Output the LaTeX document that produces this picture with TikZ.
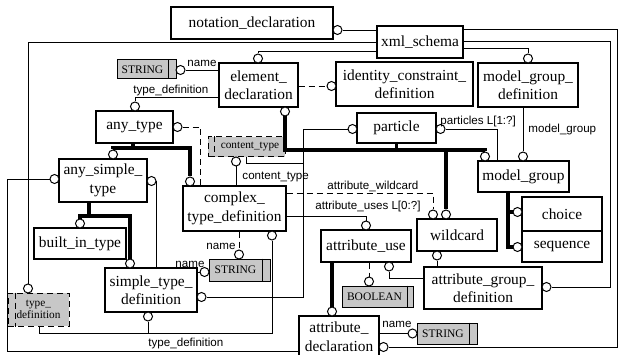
\documentclass[tikz,border=0pt]{standalone}
\usepackage{fontspec}
\setmainfont{Liberation Serif}
\setsansfont{Liberation Sans}

\begin{document}
\begin{tikzpicture}[x=1pt,y=-1pt,line width=.9pt,
  ent/.style={draw,line width=1.1pt,align=center,inner sep=0pt,font=\fontsize{15.4}{18.5}\selectfont},
  simp/.style={draw,line width=1pt,fill=black!22,inner sep=0pt,font=\fontsize{11.5}{13}\selectfont},
  sel/.style={draw,opt,line width=1pt,fill=black!22,align=center,inner sep=0pt,font=\fontsize{11.3}{12.5}\selectfont},
  oc/.style={circle,draw,fill=white,line width=1pt,inner sep=0pt,minimum size=9pt},
  isa/.style={line width=3.5pt},
  opt/.style={dash pattern=on 6pt off 4pt},
  lbl/.style={font=\sffamily\fontsize{11.6}{13}\selectfont,inner sep=0pt,anchor=base west}]
  \useasboundingbox (0,0) rectangle (620,355);

  \node[ent,minimum width=162pt,minimum height=32pt] (nd) at (252,23) {notation\_declaration};
  \node[ent,minimum width=86pt,minimum height=32pt] (xs) at (420,42) {xml\_schema};
  \node[ent,minimum width=79pt,minimum height=44pt] (ed) at (258.5,85) {element\_\\declaration};
  \node[ent,minimum width=137pt,minimum height=44pt] (icd) at (404.5,84) {identity\_constraint\_\\definition};
  \node[ent,minimum width=100pt,minimum height=44pt] (mgd) at (528,85) {model\_group\_\\definition};
  \node[simp,minimum width=59pt,minimum height=19pt] (s1) at (146.5,69.5) {STRING\kern8pt};
  \node[ent,minimum width=77pt,minimum height=32pt] (at) at (134.5,127) {any\_type};
  \node[sel,minimum width=77pt,minimum height=20pt] (ct) at (246.5,147) {\kern7pt content\_type};
  \node[ent,minimum width=79pt,minimum height=30pt] (pa) at (396.5,128) {particle};
  \node[ent,minimum width=91pt,minimum height=31pt] (mg) at (523.5,176.5) {model\_group};
  \node[ent,minimum width=88pt,minimum height=43pt] (ast) at (103,180.5) {any\_simple\_\\type};
  \node[ent,minimum width=103pt,minimum height=45pt] (ctd) at (234.5,208.5) {complex\_\\type\_definition};
  \node[ent,minimum width=80pt,minimum height=34pt] (ch) at (562,214) {choice};
  \node[ent,minimum width=80pt,minimum height=31pt] (sq) at (562,246.5) {sequence};
  \node[ent,minimum width=80pt,minimum height=32pt] (wc) at (457,235) {wildcard};
  \node[ent,minimum width=90pt,minimum height=32pt] (au) at (366,246) {attribute\_use};
  \node[ent,minimum width=92pt,minimum height=31pt] (bit) at (80,243.5) {built\_in\_type};
  \node[ent,minimum width=92pt,minimum height=44pt] (std) at (151,290) {simple\_type\_\\definition};
  \node[simp,minimum width=61pt,minimum height=22pt] (s2) at (239.5,270) {STRING\kern8pt};
  \node[simp,minimum width=71pt,minimum height=21pt] (bo) at (377.5,296.5) {BOOLEAN\kern6pt};
  \node[ent,minimum width=118pt,minimum height=42pt] (agd) at (483,288) {attribute\_group\_\\definition};
  \node[sel,minimum width=61pt,minimum height=33pt] (td) at (38.5,309.5) {type\_\\definition};
  \node[ent,minimum width=80pt,minimum height=41pt] (ad) at (339,336.5) {attribute\_\\declaration};
  \node[simp,minimum width=60pt,minimum height=21pt] (s3) at (447,333.5) {STRING\kern8pt};

  \draw ([xshift=-8pt]s1.north east) -- ([xshift=-8pt]s1.south east);
  \draw ([xshift=-8pt]s2.north east) -- ([xshift=-8pt]s2.south east);
  \draw ([xshift=-6pt]bo.north east) -- ([xshift=-6pt]bo.south east);
  \draw ([xshift=-8pt]s3.north east) -- ([xshift=-8pt]s3.south east);
  \draw[opt] ([xshift=7pt]ct.north west) -- ([xshift=7pt]ct.south west);
  \draw[opt] ([xshift=8pt]td.north west) -- ([xshift=8pt]td.south west);

  \node[oc] (ndr) at (337.5,30) {};
  \node[oc] (edt) at (258,58.5) {};
  \node[oc] (edb) at (285,111.5) {};
  \node[oc] (s1r) at (180.5,70) {};
  \node[oc] (icdl) at (331.5,86) {};
  \node[oc] (mgdt) at (528,58.5) {};
  \node[oc] (att) at (135,106.5) {};
  \node[oc] (atr) at (177.5,127) {};
  \node[oc] (ctb) at (236,161.5) {};
  \node[oc] (astt) at (113,154.5) {};
  \node[oc] (astl) at (54.5,179) {};
  \node[oc] (astr) at (151.5,181) {};
  \node[oc] (ctdt) at (190,181.5) {};
  \node[oc] (ctdb) at (272,235.5) {};
  \node[oc] (pal) at (352.5,129) {};
  \node[oc] (par) at (440.5,129) {};
  \node[oc] (mgt1) at (485,156.5) {};
  \node[oc] (mgt2) at (523,156.5) {};
  \node[oc] (chl) at (517.5,212) {};
  \node[oc] (sql) at (517.5,247) {};
  \node[oc] (wct1) at (433,214.5) {};
  \node[oc] (wct2) at (446,214.5) {};
  \node[oc] (wcb) at (437,255.5) {};
  \node[oc] (aut) at (366,225.5) {};
  \node[oc] (aub) at (389,266.5) {};
  \node[oc] (bitt) at (80,223.5) {};
  \node[oc] (stdt) at (130,263.5) {};
  \node[oc] (stdr) at (201.5,297) {};
  \node[oc] (stdb) at (148,316.5) {};
  \node[oc] (s2t) at (239,254.5) {};
  \node[oc] (s2l) at (204.5,272) {};
  \node[oc] (bot) at (369,281.5) {};
  \node[oc] (agdr) at (546.5,287) {};
  \node[oc] (tdt) at (28,288.5) {};
  \node[oc] (adt) at (332,311.5) {};
  \node[oc] (adr) at (383.5,347) {};
  \node[oc] (s3l) at (412.5,333.5) {};

  \coordinate (c2) at (28,42);
  \coordinate (c3) at (258,51);
  \coordinate (c4a) at (617,29);
  \coordinate (c4b) at (617,347);
  \coordinate (c5a) at (610,41);
  \coordinate (c5b) at (610,287);
  \coordinate (c6) at (528,48);
  \coordinate (c8) at (135,97);
  \coordinate (c10) at (200,127);
  \coordinate (c11) at (133,148);
  \coordinate (c13) at (303,163);
  \coordinate (c14a) at (303,129);
  \coordinate (c14b) at (303,297);
  \coordinate (c15) at (485,150);
  \coordinate (c16) at (497,129);
  \coordinate (c18) at (508,247);
  \coordinate (c19) at (433,193);
  \coordinate (c20) at (366,216);
  \coordinate (c22) at (389,278);
  \coordinate (c26a) at (7,179);
  \coordinate (c26b) at (7,351);
  \coordinate (c28) at (89,216);
  \coordinate (c29a) at (272,333);
  \coordinate (c29b) at (39,333);

  \draw (ndr) -- (ndr -| xs.west);
  \draw (xs.west |- c2) -- (c2) -- (tdt);
  \draw (xs.west |- c3) -- (c3) -- (edt);
  \draw (xs.east |- c4a) -- (c4a) -- (c4b) -- (adr);
  \draw (xs.east |- c5a) -- (c5a) -- (c5b) -- (agdr);
  \draw (xs.east |- c6) -- (c6) -- (mgdt);
  \draw (s1r) -- (s1r -| ed.west);
  \draw (ed.west |- c8) -- (c8) -- (att);
  \draw[opt] (icdl -| ed.east) -- (icdl);
  \draw[opt] (atr) -- (c10) -- (c10 |- ctd.north);
  \draw[isa] (at.south -| c11) -- (c11);
  \draw[isa] (astt) -- (astt |- c11) -- (ctdt |- c11) -- (ctdt);
  \draw (ctb) -- (ctb |- ctd.north);
  \draw (ct.south) -- (ct.south |- c13) -- (c13);
  \draw (pal) -- (c14a) -- (c14b) -- (stdr);
  \draw[isa] (edb) -- (edb |- c15) -- (c15) -- (mgt1);
  \draw[isa] (pa.south) -- (pa.south |- c15);
  \draw[isa] (wct2 |- c15) -- (wct2);
  \draw (par) -- (c16) -- (c16 |- mg.north);
  \draw (mgt2 |- mgd.south) -- (mgt2);
  \draw[isa] (c18 |- mg.south) -- (c18) -- (sql);
  \draw[isa] (chl -| c18) -- (chl);
  \draw[opt] (ctd.east |- c19) -- (c19) -- (wct1);
  \draw (ctd.east |- c20) -- (c20) -- (aut);
  \draw[opt] (bot |- au.south) -- (bot);
  \draw (aub) -- (c22) -- (c22 -| agd.west);
  \draw[isa] (adt |- au.south) -- (adt);
  \draw (wcb) -- (wcb |- agd.north);
  \draw (ad.east |- s3l) -- (s3l);
  \draw (astl) -- (c26a) -- (c26b) -- (c26b -| ad.west);
  \draw (astr.east) -- (astr.east |- std.north);
  \draw[isa] (c28 |- ast.south) -- (c28);
  \draw[isa] (bitt) -- (bitt |- c28) -- (stdt |- c28) -- (stdt);
  \draw (ctdb) -- (c29a) -- (c29b) -- (c29b |- td.south);
  \draw (stdb) -- (stdb |- c29a);
  \draw[opt] (s2t |- ctd.south) -- (s2t);
  \draw (std.east |- s2l) -- (s2l);

  \node[lbl] (l1) at (187,67) {name};
  \node[lbl] (l2) at (133,94) {type\_definition};
  \node[lbl] (l3) at (242,180) {content\_type};
  \node[lbl] (l4) at (440,125) {particles L[1:?]};
  \node[lbl] (l5) at (528,133) {model\_group};
  \node[lbl] (l6) at (327,190) {attribute\_wildcard};
  \node[lbl] (l7) at (315,210) {attribute\_uses L[0:?]};
  \node[lbl] (l8) at (206,249) {name};
  \node[lbl] (l9) at (175,267) {name};
  \node[lbl] (l10) at (382,327) {name};
  \node[lbl] (l11) at (148,346) {type\_definition};
\end{tikzpicture}
\end{document}
